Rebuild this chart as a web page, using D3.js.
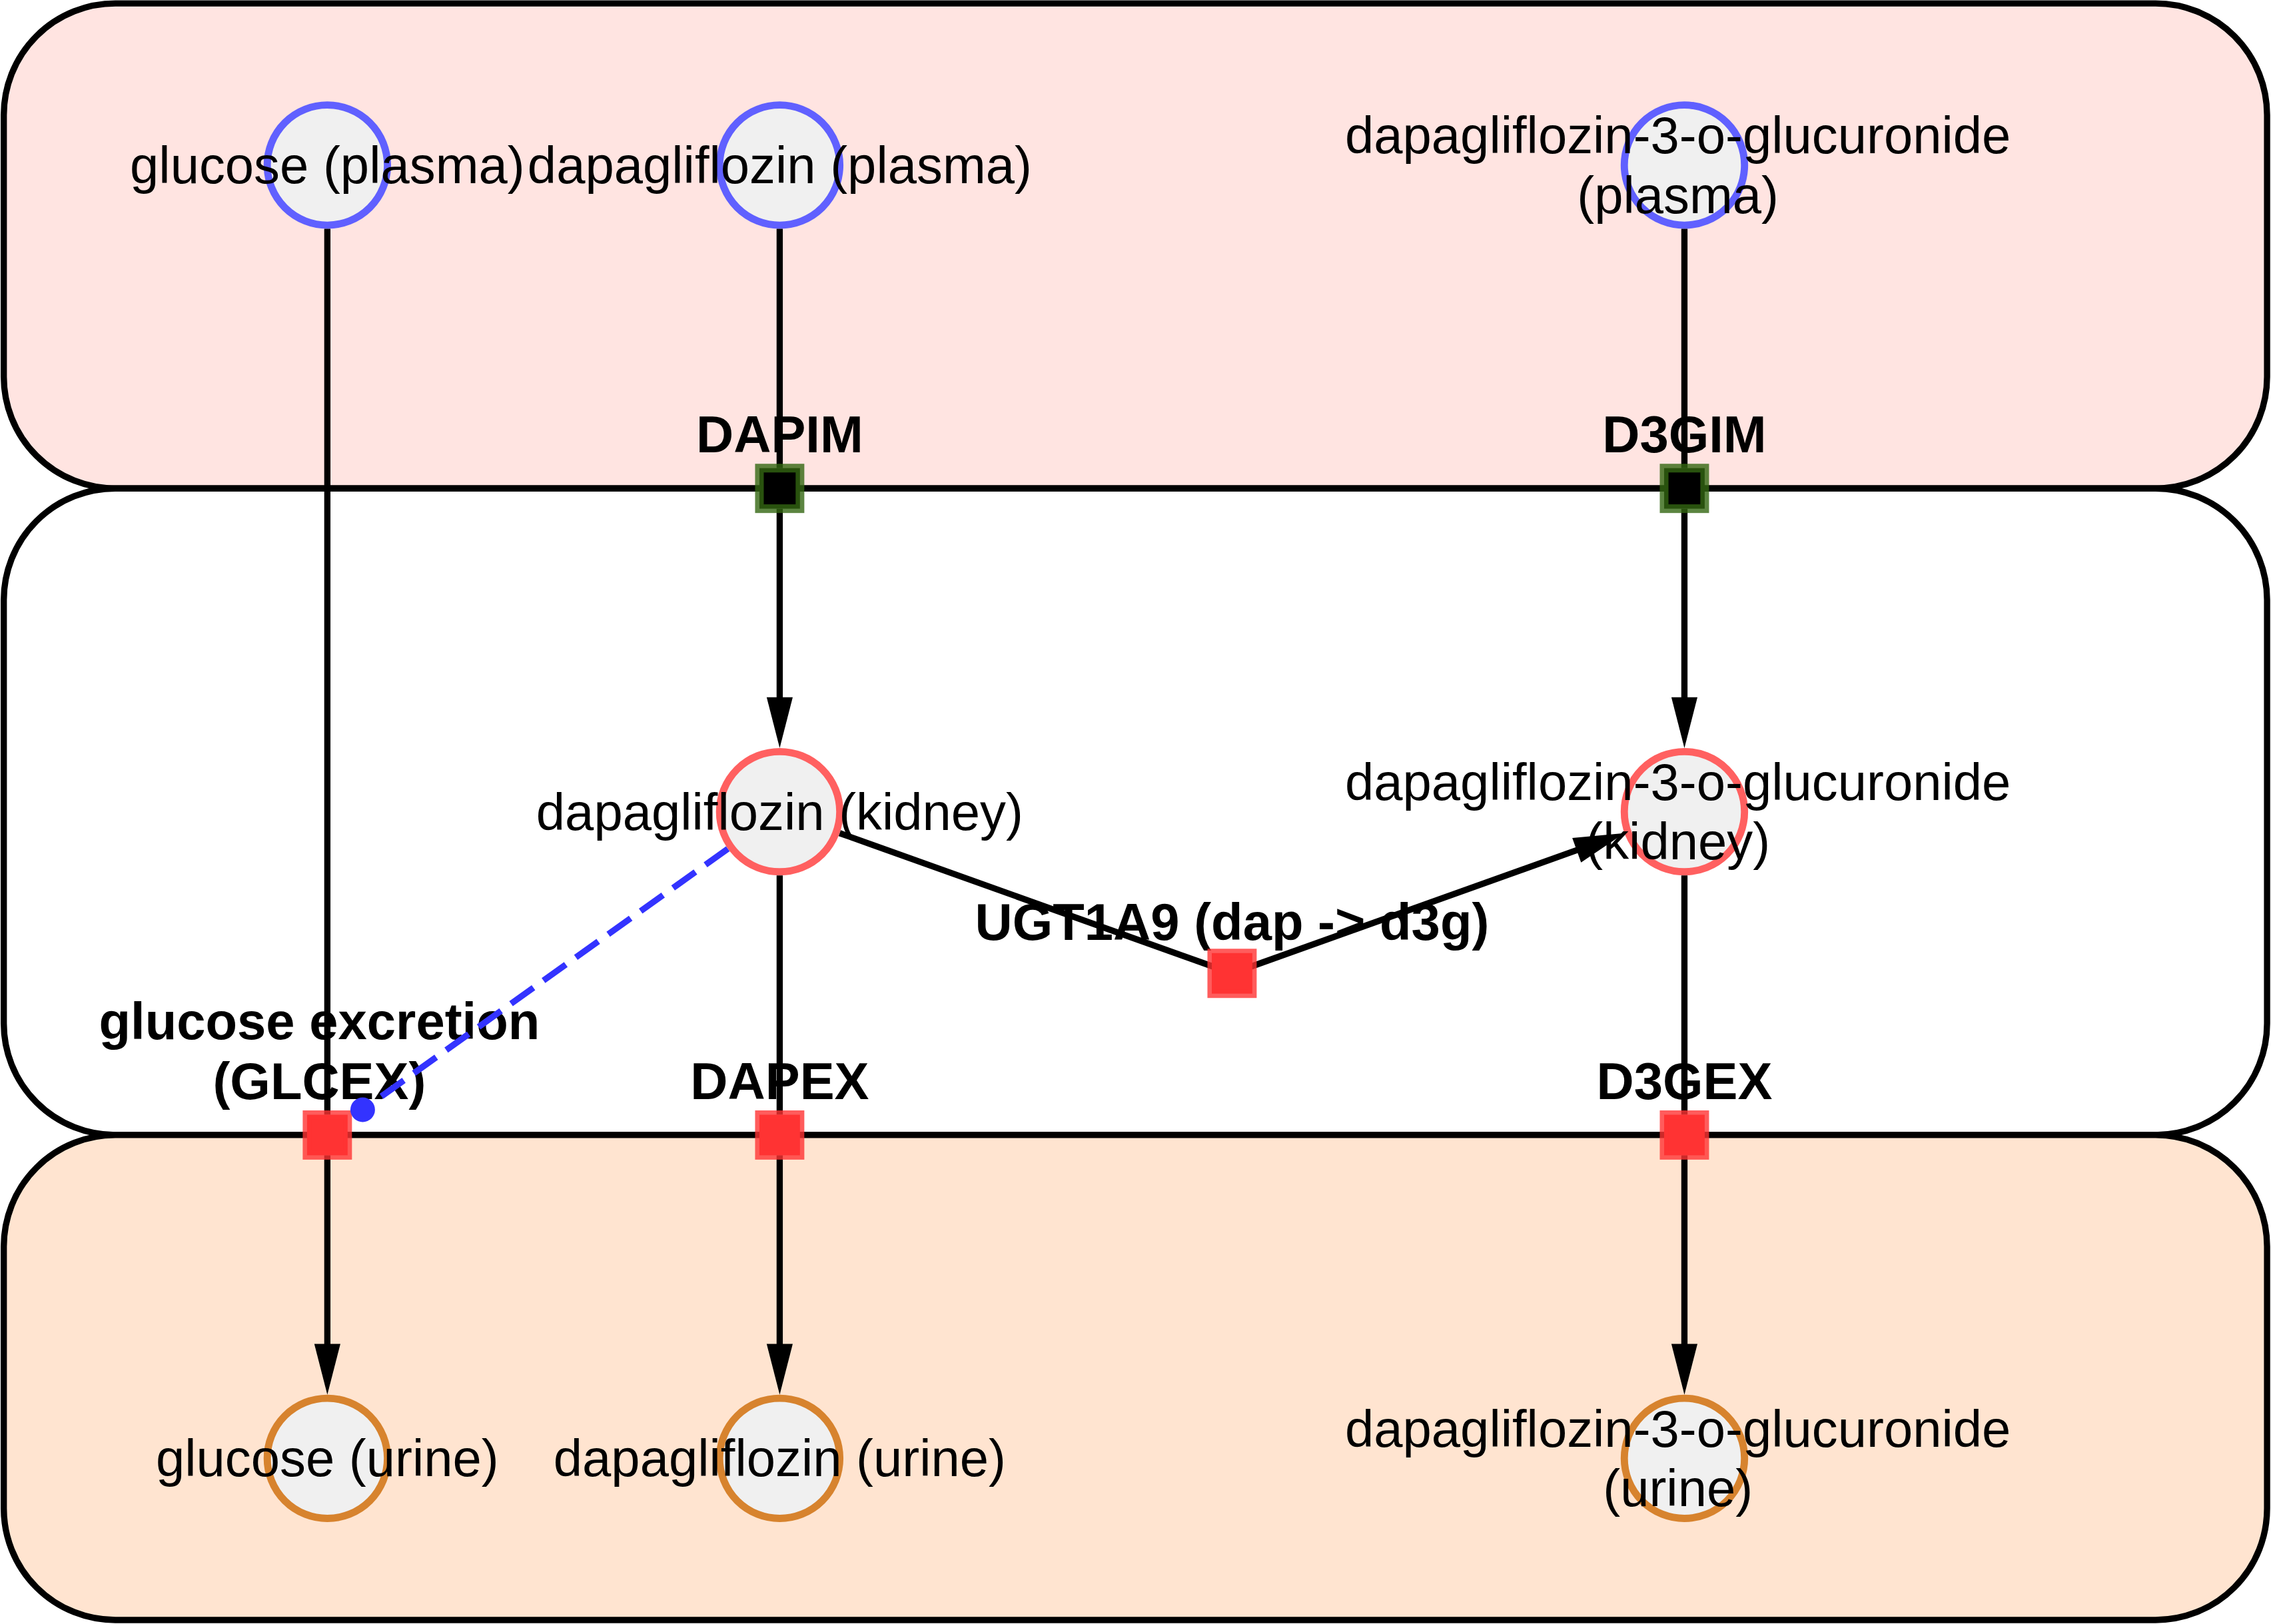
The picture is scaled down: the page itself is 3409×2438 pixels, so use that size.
<!DOCTYPE html>
<html>
<head>
<meta charset="utf-8">
<script src="https://cdn.jsdelivr.net/npm/d3@7"></script>
<style>
  html, body { margin: 0; padding: 0; background: #ffffff; }
  svg { display: block; }
</style>
</head>
<body>
<svg id="chart"></svg>
<script>
// pathway data
var lanes = ['glc', 'dap', 'ugt', 'd3g'];
var compartments = ['plasma', 'kidney', 'urine'];
var compartmentLevels = [[-0.5, 1], [1, 3], [3, 4.5]];

var species = [
	{ id: 'glc_plasma', label: ['glucose (plasma)'], lane: 'glc', comp: 'plasma' },
	{ id: 'dap_plasma', label: ['dapagliflozin (plasma)'], lane: 'dap', comp: 'plasma' },
	{ id: 'd3g_plasma', label: ['dapagliflozin-3-o-glucuronide', '(plasma)'], lane: 'd3g', comp: 'plasma' },
	{ id: 'dap_kidney', label: ['dapagliflozin (kidney)'], lane: 'dap', comp: 'kidney' },
	{ id: 'd3g_kidney', label: ['dapagliflozin-3-o-glucuronide', '(kidney)'], lane: 'd3g', comp: 'kidney' },
	{ id: 'glc_urine', label: ['glucose (urine)'], lane: 'glc', comp: 'urine' },
	{ id: 'dap_urine', label: ['dapagliflozin (urine)'], lane: 'dap', comp: 'urine' },
	{ id: 'd3g_urine', label: ['dapagliflozin-3-o-glucuronide', '(urine)'], lane: 'd3g', comp: 'urine' }
];

var reactions = [
	{ id: 'DAPIM', label: ['DAPIM'], lane: 'dap', level: 1, kind: 'transport' },
	{ id: 'D3GIM', label: ['D3GIM'], lane: 'd3g', level: 1, kind: 'transport' },
	{ id: 'GLCEX', label: ['glucose excretion', '(GLCEX)'], lane: 'glc', level: 3, kind: 'reaction' },
	{ id: 'DAPEX', label: ['DAPEX'], lane: 'dap', level: 3, kind: 'reaction' },
	{ id: 'D3GEX', label: ['D3GEX'], lane: 'd3g', level: 3, kind: 'reaction' },
	{ id: 'UGT1A9', label: ['UGT1A9 (dap -> d3g)'], lane: 'ugt', level: 2.5, kind: 'reaction' }
];

var edges = [
	['dap_plasma', 'DAPIM'], ['DAPIM', 'dap_kidney'],
	['d3g_plasma', 'D3GIM'], ['D3GIM', 'd3g_kidney'],
	['glc_plasma', 'GLCEX'], ['GLCEX', 'glc_urine'],
	['dap_kidney', 'DAPEX'], ['DAPEX', 'dap_urine'],
	['d3g_kidney', 'D3GEX'], ['D3GEX', 'd3g_urine'],
	['dap_kidney', 'UGT1A9'], ['UGT1A9', 'd3g_kidney']
];

var modifiers = [['dap_kidney', 'GLCEX']];

// drawing
var W = 1568, H = 1121.4;
var fontFamily = '"Liberation Sans", Arial, sans-serif';
var fontSize = '35.8px';
var compFill = { plasma: '#ffe4e1', kidney: '#ffffff', urine: '#ffe4d0' };
var compStroke = { plasma: '#6060ff', kidney: '#ff6060', urine: '#d7832e' };

var svg = d3.select('#chart')
	.attr('width', 3409)
	.attr('height', 2438)
	.attr('viewBox', '0 0 ' + W + ' ' + H);

var x = d3.scalePoint().domain(lanes).range([226, 1163]);
var y = d3.scaleLinear().domain([0, 4]).range([114, 1007]);

var nodes = {};
species.forEach(function (d) {
	d.type = 'species';
	d.x = x(d.lane);
	d.y = y(compartments.indexOf(d.comp) * 2);
	nodes[d.id] = d;
});
reactions.forEach(function (d) {
	d.type = 'reaction';
	d.x = x(d.lane);
	d.y = y(d.level);
	nodes[d.id] = d;
});

var R = 41.5, OUT = 44, SQ = 28;
// wrapped labels sit a little left (trailing space of the broken line)
var WRAP_DX = -4.5;

// compartments
svg.selectAll('rect.comp').data(compartments)
	.enter().append('rect')
		.attr('class', 'comp')
		.attr('x', 2.6)
		.attr('y', function (d, i) { return y(compartmentLevels[i][0]); })
		.attr('width', 1565.3 - 2.6)
		.attr('height', function (d, i) { return y(compartmentLevels[i][1]) - y(compartmentLevels[i][0]); })
		.attr('rx', 77)
		.attr('ry', 77)
		.style('fill', function (d) { return compFill[d]; })
		.style('stroke', '#000')
		.style('stroke-width', 4.3);

// species circles
svg.selectAll('circle.species').data(species)
	.enter().append('circle')
		.attr('class', 'species')
		.attr('cx', function (d) { return d.x; })
		.attr('cy', function (d) { return d.y; })
		.attr('r', R)
		.style('fill', '#f0f0f0')
		.style('stroke', function (d) { return compStroke[d.comp]; })
		.style('stroke-width', 5);

// labels
species.forEach(function (d) {
	var n = d.label.length;
	d.label.forEach(function (t, i) {
		svg.append('text')
			.attr('x', d.x + (n > 1 ? WRAP_DX : 0))
			.attr('y', d.y + 12.5 + (i - (n - 1) / 2) * 41)
			.attr('text-anchor', 'middle')
			.style('font-family', fontFamily)
			.style('font-size', fontSize)
			.style('fill', '#000')
			.text(t);
	});
});

reactions.forEach(function (d) {
	var n = d.label.length;
	var base = d.level == 2.5 ? 23 : 25;
	d.label.forEach(function (t, i) {
		svg.append('text')
			.attr('x', d.x + (n > 1 ? WRAP_DX - 1 : 0))
			.attr('y', d.y - base - (n - 1 - i) * 41)
			.attr('text-anchor', 'middle')
			.style('font-family', fontFamily)
			.style('font-size', fontSize)
			.style('font-weight', 'bold')
			.style('fill', '#000')
			.text(t);
	});
});

// edges with arrowheads into products
function unit(a, b) {
	var dx = b.x - a.x, dy = b.y - a.y, len = Math.sqrt(dx * dx + dy * dy);
	return [dx / len, dy / len];
}

var line = d3.line();
var AL = 35, AW = 9;

edges.forEach(function (e) {
	var s = nodes[e[0]], t = nodes[e[1]];
	var u = unit(s, t);
	var so = s.type == 'species' ? OUT : 14;
	var p0 = [s.x + u[0] * so, s.y + u[1] * so];
	var p1;
	if (t.type == 'species') {
		var tip = [t.x - u[0] * OUT, t.y - u[1] * OUT];
		var b = [tip[0] - u[0] * AL, tip[1] - u[1] * AL];
		p1 = [b[0] + u[0] * 2, b[1] + u[1] * 2];
		svg.append('path')
			.attr('d', line([tip, [b[0] - u[1] * AW, b[1] + u[0] * AW], [b[0] + u[1] * AW, b[1] - u[0] * AW]]) + 'Z')
			.style('fill', '#000')
			.style('stroke', 'none')
			.attr('class', 'arrow');
	} else {
		p1 = [t.x - u[0] * 14, t.y - u[1] * 14];
	}
	svg.insert('path', '.arrow')
		.attr('d', line([p0, p1]))
		.style('fill', 'none')
		.style('stroke', '#000')
		.style('stroke-width', 4.3);
});

// reaction glyphs
svg.selectAll('rect.reaction').data(reactions)
	.enter().append('rect')
		.attr('class', 'reaction')
		.attr('x', function (d) { return d.x - SQ / 2; })
		.attr('y', function (d) { return d.y - SQ / 2; })
		.attr('width', SQ)
		.attr('height', SQ)
		.style('fill', function (d) { return d.kind == 'transport' ? '#000000' : '#ff3333'; })
		.style('stroke', function (d) { return d.kind == 'transport' ? '#336611' : '#ff3333'; })
		.style('stroke-opacity', 0.8)
		.style('stroke-width', 6);

// modulation
modifiers.forEach(function (m) {
	var s = nodes[m[0]], t = nodes[m[1]];
	var u = unit(s, t);
	var p0 = [s.x + u[0] * OUT, s.y + u[1] * OUT];
	var p1 = [t.x - u[0] * 30, t.y - u[1] * 30];
	svg.append('path')
		.attr('d', line([p0, p1]))
		.style('fill', 'none')
		.style('stroke', '#3333ff')
		.style('stroke-width', 4.3)
		.style('stroke-dasharray', '19,8.5');
	svg.append('circle')
		.attr('cx', p1[0])
		.attr('cy', p1[1])
		.attr('r', 8.5)
		.style('fill', '#3333ff');
});
</script>
</body>
</html>
